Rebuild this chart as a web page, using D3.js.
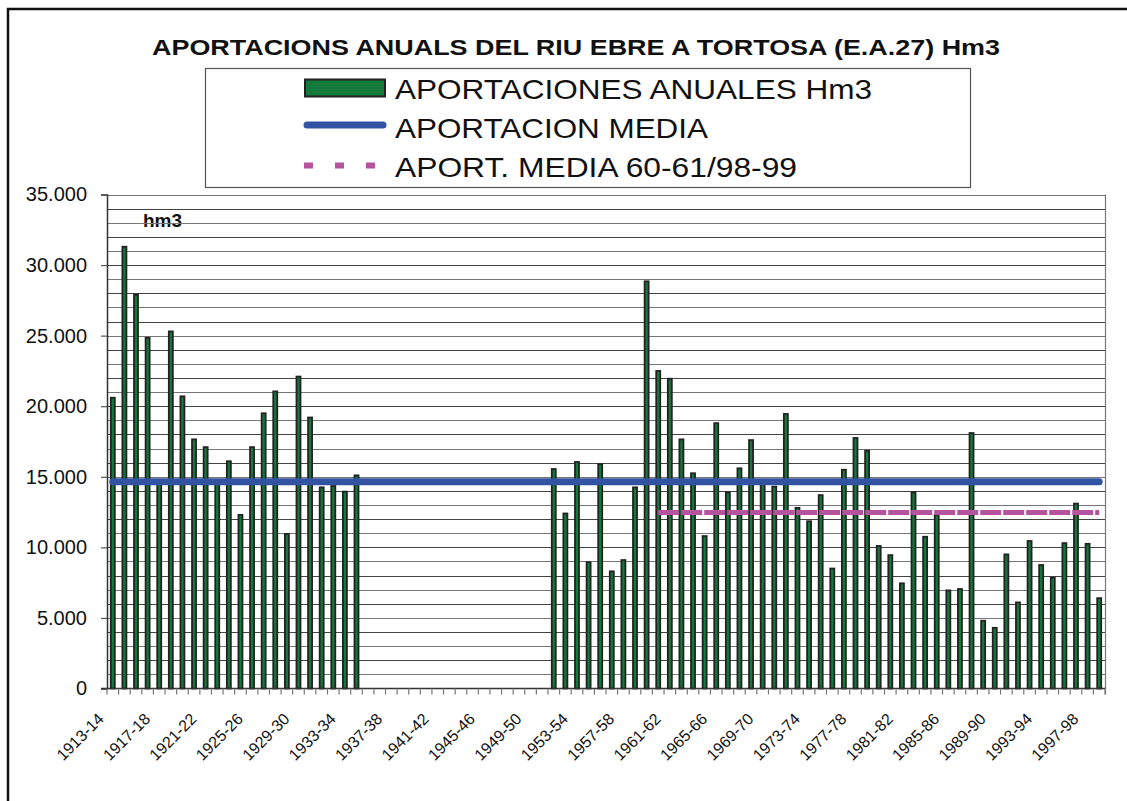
<!DOCTYPE html>
<meta charset="utf-8">
<style>
  body { margin: 0; background: #fff; }
  text { font-family: "Liberation Sans", Arial, sans-serif; fill: #111; }
</style>
<body>
<script src="https://cdn.jsdelivr.net/npm/d3@7"></script>
<script>

  var categories = [
    "1913-14","1914-15","1915-16","1916-17","1917-18","1918-19","1919-20","1920-21","1921-22","1922-23",
    "1923-24","1924-25","1925-26","1926-27","1927-28","1928-29","1929-30","1930-31","1931-32","1932-33",
    "1933-34","1934-35","1935-36","1936-37","1937-38","1938-39","1939-40","1940-41","1941-42","1942-43",
    "1943-44","1944-45","1945-46","1946-47","1947-48","1948-49","1949-50","1950-51","1951-52","1952-53",
    "1953-54","1954-55","1955-56","1956-57","1957-58","1958-59","1959-60","1960-61","1961-62","1962-63",
    "1963-64","1964-65","1965-66","1966-67","1967-68","1968-69","1969-70","1970-71","1971-72","1972-73",
    "1973-74","1974-75","1975-76","1976-77","1977-78","1978-79","1979-80","1980-81","1981-82","1982-83",
    "1983-84","1984-85","1985-86","1986-87","1987-88","1988-89","1989-90","1990-91","1991-92","1992-93",
    "1993-94","1994-95","1995-96","1996-97","1997-98","1998-99"
  ];

  // annual contributions, hm3 (null = no data)
  var aportaciones = [
    20600, 31300, 27900, 24850, 14600, 25300, 20700, 17650, 17100, 14500,
    16100, 12300, 17100, 19500, 21050, 10950, 22100, 19200, 14250, 14350,
    13950, 15100, null, null, null, null, null, null, null, null,
    null, null, null, null, null, null, null, null, 15550, 12400,
    16050, 8950, 15900, 8300, 9100, 14250, 28850, 22500, 21950, 17650,
    15250, 10800, 18800, 13900, 15600, 17600, 14500, 14300, 19450, 12800,
    11850, 13700, 8500, 15500, 17750, 16850, 10100, 9450, 7450, 13900,
    10750, 12300, 6950, 7050, 18100, 4800, 4300, 9500, 6100, 10450,
    8750, 7850, 10300, 13100, 10250, 6400
  ];

  var mediaTotal = 14650;
  var mediaReciente = 12470;
  var mediaDesde = "1960-61", mediaHasta = "1998-99";

  var tickLabels = categories.filter(function (d, i) { return i % 4 === 0; });
  var yTicks = [0, 5000, 10000, 15000, 20000, 25000, 30000, 35000];

  var legendItems = ["APORTACIONES ANUALES Hm3", "APORTACION MEDIA", "APORT. MEDIA 60-61/98-99"];

  var W = 1127, H = 801;
  var plot = { left: 107, right: 1105, top: 194.5, bottom: 688.5 };

  var svg = d3.select("body").append("svg")
    .attr("width", W)
    .attr("height", H);

  // outer frame
  svg.append("rect")
    .attr("x", 8).attr("y", 9).attr("width", 1140).attr("height", 820)
    .attr("fill", "none").attr("stroke", "#111").attr("stroke-width", 2.5);

  var x = d3.scaleBand()
    .domain(categories)
    .range([plot.left, plot.right])
    .padding(0);

  var y = d3.scaleLinear()
    .domain([0, 35000])
    .range([plot.bottom, plot.top]);

  var bw = x.bandwidth();
  function cx(d) { return x(d) + bw / 2; }

  // unit label (sits under the grid, like the original)
  svg.append("text")
    .attr("x", 143).attr("y", 227)
    .attr("font-size", 19).attr("font-weight", "bold")
    .text("hm3");

  // grid lines every 1000
  svg.append("g").selectAll("line")
    .data(d3.range(1000, 35001, 1000))
    .enter().append("line")
    .attr("x1", plot.left).attr("x2", plot.right)
    .attr("y1", function (d) { return Math.round(y(d)) + 0.5; })
    .attr("y2", function (d) { return Math.round(y(d)) + 0.5; })
    .attr("stroke", function (d) { return d % 2000 === 0 ? "#444" : "#777"; })
    .attr("stroke-width", 1.2);

  // right border of the plot
  svg.append("line")
    .attr("x1", plot.right + 0.5).attr("x2", plot.right + 0.5)
    .attr("y1", plot.top).attr("y2", plot.bottom + 6)
    .attr("stroke", "#777").attr("stroke-width", 1.2);

  // bars
  svg.append("g").selectAll("rect")
    .data(categories.map(function (c, i) { return { c: c, v: aportaciones[i] }; })
      .filter(function (d) { return d.v != null; }))
    .enter().append("rect")
    .attr("x", function (d) { return cx(d.c) - 2; })
    .attr("width", 4)
    .attr("y", function (d) { return y(d.v); })
    .attr("height", function (d) { return y(0) - y(d.v); })
    .attr("fill", "#137a3c")
    .attr("stroke", "#222")
    .attr("stroke-width", 1.8);

  // mean line, whole series
  svg.append("line")
    .attr("x1", cx(categories[0])).attr("x2", cx(categories[categories.length - 1]))
    .attr("y1", y(mediaTotal)).attr("y2", y(mediaTotal))
    .attr("stroke", "#3253a1").attr("stroke-width", 7)
    .attr("stroke-linecap", "round");

  // mean line 60-61 / 98-99
  svg.append("line")
    .attr("x1", cx(mediaDesde)).attr("x2", cx(mediaHasta))
    .attr("y1", y(mediaReciente)).attr("y2", y(mediaReciente))
    .attr("stroke", "#b5539f").attr("stroke-width", 5)
    .attr("stroke-dasharray", "21,2");

  // y axis
  var fmt = d3.formatLocale({ decimal: ",", thousands: ".", grouping: [3], currency: ["", ""] }).format(",");
  var yAxis = svg.append("g")
    .attr("transform", "translate(" + plot.left + ",0)")
    .call(d3.axisLeft(y).tickValues(yTicks).tickSize(6).tickPadding(14).tickFormat(fmt));
  yAxis.attr("font-size", null).attr("font-family", null);
  yAxis.selectAll("path").attr("stroke", "#333").attr("stroke-width", 1.5);
  yAxis.selectAll(".tick line").attr("stroke", "#555").attr("stroke-width", 1.2);
  yAxis.selectAll("text").attr("font-size", 20).attr("fill", "#111");

  // x axis line and ticks on category boundaries
  svg.append("line")
    .attr("x1", plot.left - 6).attr("x2", plot.right)
    .attr("y1", plot.bottom).attr("y2", plot.bottom)
    .attr("stroke", "#333").attr("stroke-width", 1.5);

  svg.append("g").selectAll("line")
    .data(categories.concat(["end"]))
    .enter().append("line")
    .attr("x1", function (d, i) { return plot.left + i * bw; })
    .attr("x2", function (d, i) { return plot.left + i * bw; })
    .attr("y1", plot.bottom).attr("y2", plot.bottom + 6)
    .attr("stroke", "#777").attr("stroke-width", 1.2);

  svg.append("g").selectAll("text")
    .data(tickLabels)
    .enter().append("text")
    .attr("transform", function (d) { return "translate(" + (cx(d) - 8) + ",720) rotate(-45)"; })
    .attr("text-anchor", "end")
    .attr("font-size", 16)
    .text(function (d) { return d; });

  // title
  svg.append("text")
    .attr("x", 152).attr("y", 55)
    .attr("textLength", 848).attr("lengthAdjust", "spacingAndGlyphs")
    .attr("font-size", 22).attr("font-weight", "bold")
    .text("APORTACIONS ANUALS DEL RIU EBRE A TORTOSA (E.A.27) Hm3");

  // legend
  var lg = svg.append("g");
  lg.append("rect")
    .attr("x", 205.5).attr("y", 68.5).attr("width", 765).attr("height", 119)
    .attr("fill", "#fff").attr("stroke", "#555").attr("stroke-width", 1.2);

  var rowBase = [99, 137.5, 176.5];
  var rowWidth = [477, 313, 402];
  lg.selectAll("text.leg")
    .data(legendItems)
    .enter().append("text")
    .attr("class", "leg")
    .attr("x", 395)
    .attr("y", function (d, i) { return rowBase[i]; })
    .attr("textLength", function (d, i) { return rowWidth[i]; })
    .attr("lengthAdjust", "spacingAndGlyphs")
    .attr("font-size", 28)
    .text(function (d) { return d; });

  lg.append("rect")
    .attr("x", 305).attr("y", 79.5).attr("width", 80).attr("height", 17)
    .attr("fill", "#137a3c").attr("stroke", "#222").attr("stroke-width", 2);

  lg.append("line")
    .attr("x1", 307).attr("x2", 383).attr("y1", 125).attr("y2", 125)
    .attr("stroke", "#3253a1").attr("stroke-width", 7).attr("stroke-linecap", "round");

  lg.append("line")
    .attr("x1", 304).attr("x2", 384).attr("y1", 165.5).attr("y2", 165.5)
    .attr("stroke", "#b5539f").attr("stroke-width", 6)
    .attr("stroke-dasharray", "9,22");

</script>
</body>
